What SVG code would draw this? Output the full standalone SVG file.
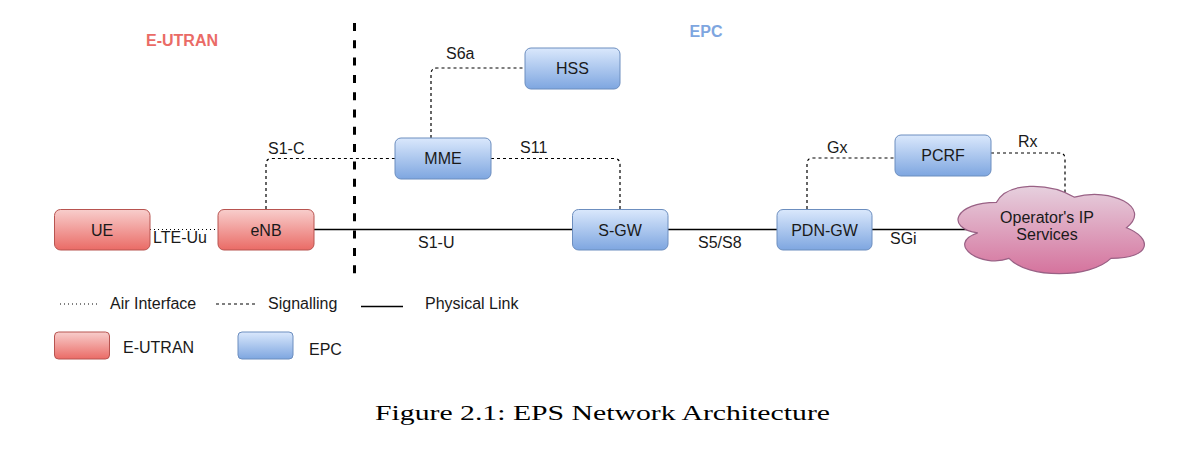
<svg xmlns="http://www.w3.org/2000/svg" width="1204" height="468" viewBox="0 0 1204 468">
<defs>
<linearGradient id="gRed" x1="0" y1="0" x2="0" y2="1"><stop offset="0" stop-color="#f8cecc"/><stop offset="1" stop-color="#ea6b66"/></linearGradient>
<linearGradient id="gBlue" x1="0" y1="0" x2="0" y2="1"><stop offset="0" stop-color="#dae8fc"/><stop offset="1" stop-color="#7ea6e0"/></linearGradient>
<linearGradient id="gPink" x1="0" y1="0" x2="0" y2="1"><stop offset="0" stop-color="#e6d0de"/><stop offset="1" stop-color="#d5739d"/></linearGradient>
</defs>
<style>
text{font-family:"Liberation Sans",Arial,sans-serif;font-size:16px;fill:#1a1a1a}
.c{text-anchor:middle}
.red{fill:url(#gRed);stroke:#b85450;stroke-width:1}
.blue{fill:url(#gBlue);stroke:#6c8ebf;stroke-width:1}
.sig{fill:none;stroke:#000;stroke-width:1.2;stroke-dasharray:3 3}
.air{fill:none;stroke:#000;stroke-width:1;stroke-dasharray:1 3}
.phy{fill:none;stroke:#000;stroke-width:1.5}
</style>
<rect width="1204" height="468" fill="#fff"/>
<text class="c" x="182" y="46" style="font-weight:bold;fill:#ea6b66">E-UTRAN</text>
<text class="c" x="706" y="36.5" style="font-weight:bold;fill:#7ea6e0">EPC</text>
<line x1="354.5" y1="23" x2="354.5" y2="278" stroke="#000" stroke-width="3" stroke-dasharray="8 9.3"/>
<g id="connectors">
<path class="air" d="M150 229.5 H218"/>
<path class="sig" d="M266 209 V164 Q266 158.5 272 158.5 H395"/>
<path class="phy" d="M314 229.5 H572"/>
<path class="sig" d="M431 138 V74 Q431 68 437 68 H525"/>
<path class="sig" d="M491 158.5 H614 Q620 158.5 620 164.5 V209"/>
<path class="phy" d="M668 229.5 H777"/>
<path class="sig" d="M807 209 V164 Q807 158 813 158 H895"/>
<path class="sig" d="M991 153 H1059 Q1065 153 1065 159 V195"/>
<path class="phy" d="M872 229.5 H980"/>
<text x="153" y="243">LTE-Uu</text>
<text x="268" y="154">S1-C</text>
<text x="418" y="248">S1-U</text>
<text x="446" y="59">S6a</text>
<text x="520" y="153">S11</text>
<text x="698" y="248">S5/S8</text>
<text x="827" y="153">Gx</text>
<text x="1018" y="147">Rx</text>
<text x="890" y="244">SGi</text>
</g>
<g id="UE"><rect class="red" x="54.5" y="209.5" width="95.5" height="40.5" rx="6"/><text class="c" x="102" y="235.5">UE</text></g>
<g id="eNB"><rect class="red" x="218" y="209.5" width="96" height="40.5" rx="6"/><text class="c" x="266" y="235.5">eNB</text></g>
<g id="MME"><rect class="blue" x="395" y="138" width="96" height="41" rx="6"/><text class="c" x="443" y="164">MME</text></g>
<g id="HSS"><rect class="blue" x="525" y="48" width="95" height="41" rx="6"/><text class="c" x="572.5" y="74">HSS</text></g>
<g id="S-GW"><rect class="blue" x="572.5" y="209.5" width="95.5" height="40.5" rx="6"/><text class="c" x="620" y="235.5">S-GW</text></g>
<g id="PDN-GW"><rect class="blue" x="777" y="209.5" width="95" height="40.5" rx="6"/><text class="c" x="824.5" y="235.5">PDN-GW</text></g>
<g id="PCRF"><rect class="blue" x="895" y="135" width="96" height="41" rx="6"/><text class="c" x="943" y="161">PCRF</text></g>
<g id="IPServices">
<path fill="url(#gPink)" stroke="#996185" stroke-width="1.2" d="M996.5 202.3 C954.9 202.3 944.5 227.8 977.8 232.9 C944.5 244.1 981.9 268.6 1009 258.4 C1027.7 278.8 1090.1 278.8 1110.9 258.4 C1152.5 258.4 1152.5 238 1126.5 227.8 C1152.5 207.4 1110.9 187 1074.5 197.2 C1048.5 181.9 1006.9 181.9 996.5 202.3 Z"/>
<text class="c" x="1047" y="223">Operator's IP</text>
<text class="c" x="1047" y="240">Services</text>
</g>
<g id="legend">
<line class="air" x1="60" y1="304" x2="98" y2="304"/>
<text x="110" y="309">Air Interface</text>
<line class="sig" x1="216" y1="304" x2="255" y2="304"/>
<text x="268" y="309">Signalling</text>
<line class="phy" x1="361" y1="306.5" x2="403" y2="306.5"/>
<text x="425" y="309">Physical Link</text>
<rect class="red" x="54.5" y="332" width="55" height="27" rx="4"/>
<text x="123" y="353">E-UTRAN</text>
<rect class="blue" x="238" y="332" width="55" height="27" rx="4"/>
<text x="309" y="355">EPC</text>
</g>
<text x="375" y="420" textLength="455" lengthAdjust="spacingAndGlyphs" style="font-family:'Liberation Serif','Times New Roman',serif;font-size:22px;fill:#000">Figure 2.1: EPS Network Architecture</text>
</svg>
